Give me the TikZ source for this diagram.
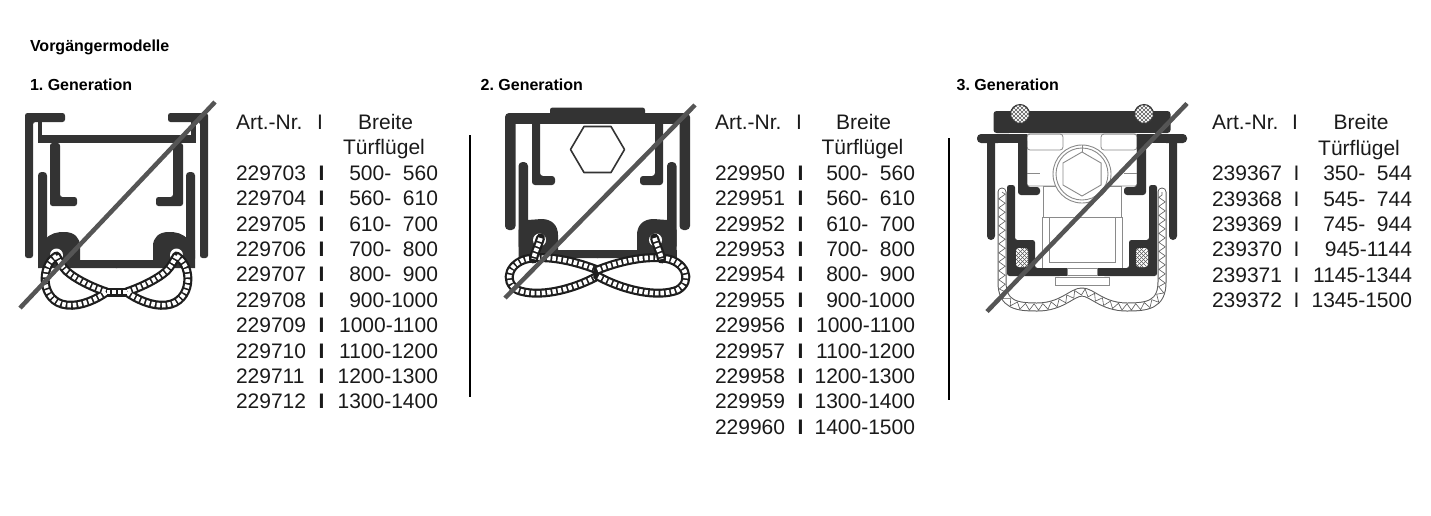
\documentclass[tikz,border=0pt]{standalone}
\usepackage{fontspec}
\setmainfont{Liberation Sans}
\usetikzlibrary{decorations.pathmorphing}
\definecolor{prof}{HTML}{333333}
\definecolor{strikec}{HTML}{555555}
\definecolor{lightc}{HTML}{8A8A8A}
\definecolor{sealc}{HTML}{1E1E1E}
\definecolor{sealg}{HTML}{5A5A5A}
\definecolor{textc}{HTML}{1A1A1A}
\frenchspacing

% ---------- seal paths (left halves, local coordinates) ----------
\newcommand\sealApath{(-60,256) .. controls (-77,266) and (-76,302) .. (-50,305) .. controls (-35,307) and (-18,298) .. (-10,292) .. controls (-22,288) and (-40,280) .. (-50,271) .. controls (-55,266) and (-57,261) .. (-60,256)}
\newcommand\sealAmid{(-10,292) -- (0.5,292)}
\newcommand\sealBpath{(0,270) .. controls (-20,262) and (-45,256) .. (-65,258) .. controls (-88,260) and (-96,281) .. (-80,290) .. controls (-60,298) and (-25,290) .. (0,276)}
\newcommand\sealBstrand{(-57,238) .. controls (-60,248) and (-63,253) .. (-64,259)}
\newcommand\sealCpath{(-80,192) -- (-80,282) .. controls (-80,305) and (-65,307) .. (-45,307) .. controls (-20,307) and (-10,292) .. (0,292) .. controls (10,292) and (20,307) .. (45,307) .. controls (65,307) and (80,305) .. (80,282) -- (80,192)}

% ---------- profile halves ----------
\newcommand\profAhalf{%
  \fill[prof, rounded corners=2.5pt] (-91.5,258) -- (-91.5,113) -- (-51.5,113) -- (-51.5,122) -- (-83.5,122) -- (-83.5,258) -- cycle;
  \fill[prof] (-79,121) rectangle (-74.5,143);
  \fill[prof] (-79,135) rectangle (0.6,143);
  \fill[prof, rounded corners=3.5pt] (-78.5,172) rectangle (-69.5,262);
  \fill[prof, rounded corners=2.5pt] (-66.5,143) -- (-66.5,206) -- (-39.5,206) -- (-39.5,197) -- (-56.5,197) -- (-56.5,143) -- cycle;
  \fill[prof] (-78.5,268) -- (-78.5,250) -- (-72,240) .. controls (-66,233) and (-60,232) .. (-52,232) .. controls (-42,232) and (-36.5,238) .. (-36.5,246) -- (-36.5,260) -- (0.6,260) -- (0.6,268) -- cycle;
  \fill[white] (-60,255) circle (6.5);
  \draw[tubeo] \sealApath;
  \draw[tubei] \sealApath;
  \draw[tubeo, line cap=butt] \sealAmid;
  \draw[tubei] \sealAmid;
}
\newcommand\profBhalf{%
  \fill[prof] (-86,113) rectangle (0.6,124);
  \fill[prof, rounded corners=4pt] (-92.5,113) rectangle (-82,230);
  \fill[prof, rounded corners=3pt] (-65.5,120) -- (-65.5,185) -- (-42.5,185) -- (-42.5,176) -- (-57.5,176) -- (-57.5,120) -- cycle;
  \fill[prof, rounded corners=4pt] (-79,162) rectangle (-69.5,250);
  \fill[prof] (-79,258) -- (-79,230) -- (-69.5,220) -- (-56,219) .. controls (-45,219) and (-39.5,226) .. (-39.5,235) -- (-39.5,250) -- (0.6,250) -- (0.6,258) -- cycle;
  \fill[prof] (-79,250) rectangle (-70,258);
  \fill[white] (-58,240) circle (6.5);
  \draw[tubeo] \sealBpath;
  \draw[tubei] \sealBpath;
  \draw[tubeo] \sealBstrand;
  \draw[tubei] \sealBstrand;
}
\newcommand\profChalf{%
  \fill[prof, rounded corners=3pt] (-88.5,111) rectangle (-70,133);
  \fill[prof] (-75,111) rectangle (0.6,133);
  \fill[prof, rounded corners=4pt] (-105,134) rectangle (-80,143);
  \fill[prof] (-90,134) rectangle (-55,143);
  \fill[prof, rounded corners=4pt] (-95,136) rectangle (-87,240);
  \fill[prof, rounded corners=3pt] (-64,138) -- (-64,195) -- (-42,195) -- (-42,187) -- (-55,187) -- (-55,138) -- cycle;
  \fill[prof, rounded corners=2.5pt] (-75,276) -- (-75,185) -- (-67,185) -- (-67,240) -- (-47,240) -- (-47,268) -- (-20,268) -- (-20,276) -- cycle;
  \fill[prof] (-25,268) rectangle (0.6,276);
  \begin{scope}
    \fill[white, rounded corners=3pt] (-66,248) rectangle (-54,267);
    \clip[rounded corners=3pt] (-66,248) rectangle (-54,267);
    \foreach \hh in {-80,-76,...,-40} {
      \draw[sealg, line width=0.5pt] (\hh,245) -- (\hh+25,270);
      \draw[sealg, line width=0.5pt] (\hh,270) -- (\hh+25,245);
    }
  \end{scope}
  \begin{scope}[shift={(-62,114)}]
    \fill[white] (0,0) circle (9.5);
    \begin{scope}
      \clip (0,0) circle (9.5);
      \foreach \hh in {-24,-20,...,24} {
        \draw[sealg, line width=0.5pt] (\hh-12,-12) -- (\hh+12,12);
        \draw[sealg, line width=0.5pt] (\hh-12,12) -- (\hh+12,-12);
      }
    \end{scope}
    \draw[prof, line width=1pt] (0,0) circle (9.5);
  \end{scope}
}

\begin{document}
\begin{tikzpicture}[x=1pt,y=-1pt,
  txt/.style={inner sep=0pt, outer sep=0pt, text=textc, font=\fontsize{21}{25}\selectfont},
  head/.style={inner sep=0pt, outer sep=0pt, text=black, font=\fontsize{16}{19}\selectfont\bfseries},
  strike/.style={draw=strikec, line width=4.5pt},
  sepline/.style={draw=black, line width=2.5pt},
  tubeo/.style={draw=sealc, line width=9pt, line join=round, line cap=round},
  tubei/.style={draw=white, line width=4.6pt, dash pattern=on 3.6pt off 1.8pt, line join=round},
  thinl/.style={draw=lightc, line width=0.8pt}]

\useasboundingbox (0,0) rectangle (1431,515);
\fill[white] (0,0) rectangle (1431,515);

% ---------------- headings ----------------
\node[head, anchor=base west] (hvm) at (30,51.7) {Vorgängermodelle};
\node[head, anchor=base west] (hg1) at (30,90) {1. Generation};
\node[head, anchor=base west] (hg2) at (480.7,90) {2. Generation};
\node[head, anchor=base west] (hg3) at (956.7,90) {3. Generation};

% ---------------- profile 1 ----------------
\begin{scope}[shift={(116.5,0)}]
  \profAhalf
  \begin{scope}[xscale=-1]\profAhalf\end{scope}
\end{scope}
\draw[strike] (20,308) -- (215,102);

% ---------------- profile 2 ----------------
\begin{scope}[shift={(597.5,0)}]
  \profBhalf
  \begin{scope}[xscale=-1]\profBhalf\end{scope}
  \fill[prof, rounded corners=2.5pt] (-47.5,107.5) rectangle (47.5,117);
  \draw[prof, line width=1.6pt, line join=round] (-27,149.5) -- (-13.5,126.5) -- (13.5,126.5) -- (27,149.5) -- (13.5,172.5) -- (-13.5,172.5) -- cycle;
\end{scope}
\draw[strike] (505,298) -- (695,105);

% ---------------- profile 3 ----------------
\begin{scope}[shift={(1082,0)}]
  % light carriage
  \draw[thinl, rounded corners=2pt] (-55,134) rectangle (55,186);
  \draw[thinl, rounded corners=3pt] (-55,134) rectangle (-19,150);
  \draw[thinl, rounded corners=3pt] (19,134) rectangle (55,150);
  \draw[thinl] (-55,173) -- (-42,173);
  \draw[thinl] (42,173) -- (55,173);
  \draw[thinl] (-39,186) rectangle (39,217);
  \draw[thinl] (-40,217) rectangle (40,268);
  \draw[thinl] (-33,217) rectangle (33,262);
  \draw[thinl] (-27,277) rectangle (27,285);
  % seal
  \draw[sealg, line width=9pt, line cap=round, line join=round] \sealCpath;
  \draw[white, line width=7pt, line cap=round, line join=round] \sealCpath;
  \draw[sealg, line width=0.6pt, decorate, decoration={zigzag, amplitude=3.2pt, segment length=9pt}] \sealCpath;
  % dark profile
  \profChalf
  \begin{scope}[xscale=-1]\profChalf\end{scope}
  \filldraw[fill=white, draw=lightc, line width=0.8pt] (-15,268.8) rectangle (15,275.2);
  % nut
  \filldraw[fill=white, draw=lightc, line width=0.9pt] (0,174) circle (29);
  \draw[lightc, line width=0.9pt] (0,174) circle (26);
  \draw[lightc, line width=0.9pt] (0,152) -- (19.05,163) -- (19.05,185) -- (0,196) -- (-19.05,185) -- (-19.05,163) -- cycle;
  \draw[lightc, line width=0.6pt] (0,145) -- (0,152);
\end{scope}
\draw[strike] (987,311.5) -- (1187,103.5);

% ---------------- separators ----------------
\draw[sepline] (470,135) -- (470,397);
\draw[sepline] (949,138) -- (949,400);

% ---------------- table 1 ----------------
\node[txt, anchor=base west] (a1h) at (236,129.4) {Art.-Nr.};
\node[txt, anchor=base] (a1s) at (320,129.4) {I};
\node[txt, anchor=base] (a1b) at (385.5,129.4) {Breite};
\node[txt, anchor=base] (a1t) at (384,154.8) {Türflügel};
\foreach \n/\r [count=\i] in {229703/{500-\hphantom{0}560},229704/{560-\hphantom{0}610},229705/{610-\hphantom{0}700},229706/{700-\hphantom{0}800},229707/{800-\hphantom{0}900},229708/{900-1000},229709/{1000-1100},229710/{1100-1200},229711/{1200-1300},229712/{1300-1400}} {
  \node[txt, anchor=base west] (a1n\i) at (236,{129.4+25.4*(\i+1)}) {\n};
  \node[txt, anchor=base] (a1i\i) at (321.5,{129.4+25.4*(\i+1)}) {\textbf{I}};
  \node[txt, anchor=base east] (a1r\i) at (438,{129.4+25.4*(\i+1)}) {\r};
}

% ---------------- table 2 ----------------
\node[txt, anchor=base west] (a2h) at (715,129.4) {Art.-Nr.};
\node[txt, anchor=base] (a2s) at (799,129.4) {I};
\node[txt, anchor=base] (a2b) at (863.5,129.4) {Breite};
\node[txt, anchor=base] (a2t) at (862.5,154.8) {Türflügel};
\foreach \n/\r [count=\i] in {229950/{500-\hphantom{0}560},229951/{560-\hphantom{0}610},229952/{610-\hphantom{0}700},229953/{700-\hphantom{0}800},229954/{800-\hphantom{0}900},229955/{900-1000},229956/{1000-1100},229957/{1100-1200},229958/{1200-1300},229959/{1300-1400},229960/{1400-1500}} {
  \node[txt, anchor=base west] (a2n\i) at (715,{129.4+25.4*(\i+1)}) {\n};
  \node[txt, anchor=base] (a2i\i) at (800.5,{129.4+25.4*(\i+1)}) {\textbf{I}};
  \node[txt, anchor=base east] (a2r\i) at (915,{129.4+25.4*(\i+1)}) {\r};
}

% ---------------- table 3 ----------------
\node[txt, anchor=base west] (a3h) at (1212,129.9) {Art.-Nr.};
\node[txt, anchor=base] (a3s) at (1295,129.9) {I};
\node[txt, anchor=base] (a3b) at (1361,129.9) {Breite};
\node[txt, anchor=base] (a3t) at (1359,155.3) {Türflügel};
\foreach \n/\r [count=\i] in {239367/{350-\hphantom{0}544},239368/{545-\hphantom{0}744},239369/{745-\hphantom{0}944},239370/{945-1144},239371/{1145-1344},239372/{1345-1500}} {
  \node[txt, anchor=base west] (a3n\i) at (1212,{129.9+25.4*(\i+1)}) {\n};
  \node[txt, anchor=base] (a3i\i) at (1296.5,{129.9+25.4*(\i+1)}) {I};
  \node[txt, anchor=base east] (a3r\i) at (1412,{129.9+25.4*(\i+1)}) {\r};
}
\end{tikzpicture}
\end{document}
